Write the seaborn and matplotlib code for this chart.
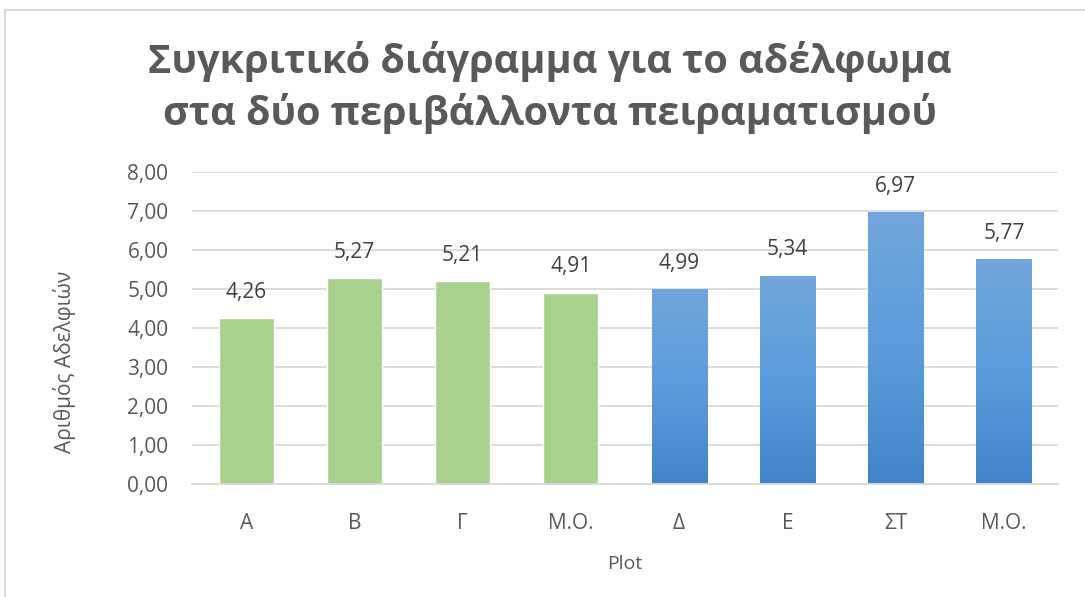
import numpy as np
import pandas as pd
import matplotlib
matplotlib.use("Agg")
import matplotlib.pyplot as plt
import seaborn as sns
from matplotlib.patches import Rectangle
from matplotlib.colors import LinearSegmentedColormap

categories = ["Α", "Β", "Γ", "Μ.Ο.", "Δ", "Ε", "ΣΤ", "Μ.Ο."]
values = [4.26, 5.27, 5.21, 4.91, 4.99, 5.34, 6.97, 5.77]
groups = ["g", "g", "g", "g", "b", "b", "b", "b"]
yticks = [0, 1, 2, 3, 4, 5, 6, 7, 8]
title_lines = ["Συγκριτικό διάγραμμα για το αδέλφωμα",
               "στα δύο περιβάλλοντα πειραματισμού"]
xlabel = "Plot"
ylabel = "Αριθμός Αδελφιών"

sns.set_theme(style="white")
plt.rcParams['font.family'] = ['Open Sans', 'DejaVu Sans']

df = pd.DataFrame({"pos": [str(i) for i in range(len(values))], "val": values})
green = "#A9D18E"
blue = "#5B9BD5"
palette = [green if g == "g" else blue for g in groups]

fig = plt.figure(figsize=(10.85, 5.97), dpi=100)
ax = fig.add_axes([192/1085, 1-484/597, (1058-192)/1085, (484-172)/597])

sns.barplot(data=df, x="pos", y="val", hue="pos", palette=palette, legend=False,
            width=0.51, ax=ax, saturation=1)

grad = np.linspace(0, 1, 256).reshape(-1, 1)
cmap = LinearSegmentedColormap.from_list("bl", ["#4285C8", "#5A9CDB", "#72A6DC"])
for patch, g in zip(ax.patches, groups):
    if g == "b":
        x0, y0 = patch.get_x(), patch.get_y()
        w, h = patch.get_width(), patch.get_height()
        im = ax.imshow(grad, cmap=cmap, origin="lower", aspect="auto",
                       extent=[x0, x0 + w, y0, y0 + h], zorder=patch.get_zorder() + 0.1)
        im.set_clip_path(patch)

ax.set_xlim(-0.5, len(values) - 0.5)
ax.set_ylim(0, 8)
ax.set_yticks(yticks)
ax.set_yticklabels([f"{v:.2f}".replace(".", ",") for v in yticks])
ax.set_xticks(range(len(categories)))
ax.set_xticklabels(categories)
ax.yaxis.grid(True, color="#D9D9D9", linewidth=1.3)
ax.set_axisbelow(True)
for s in ["top", "right", "left"]:
    ax.spines[s].set_visible(False)
ax.spines["bottom"].set_color("#D9D9D9")
ax.spines["bottom"].set_linewidth(1.3)
ax.tick_params(axis="both", length=0, labelsize=15, colors="#595959")
ax.tick_params(axis="y", pad=17)
ax.tick_params(axis="x", pad=21)

for i, v in enumerate(values):
    ax.annotate(f"{v:.2f}".replace(".", ","), (i, v), xytext=(0, 11),
                textcoords="offset points", ha="center", va="bottom",
                fontsize=15, color="#404040")

ax.set_xlabel(xlabel, fontsize=14, color="#595959", labelpad=15)
ax.set_ylabel(ylabel, fontsize=15, color="#595959")
ax.yaxis.set_label_coords(-0.134, 0.39)

for ty, line in zip([62, 113], title_lines):
    fig.text(550/1085, 1-ty/597, line, ha="center", va="center", fontsize=28.5,
             fontweight="bold", color="#595959")

fig.patches.append(Rectangle((5/1085, -0.1), 1.2, 1 - 10/597 + 0.1, transform=fig.transFigure,
                             fill=False, edgecolor="#D9D9D9", linewidth=1.5))

fig.savefig("out.png", dpi=100)
